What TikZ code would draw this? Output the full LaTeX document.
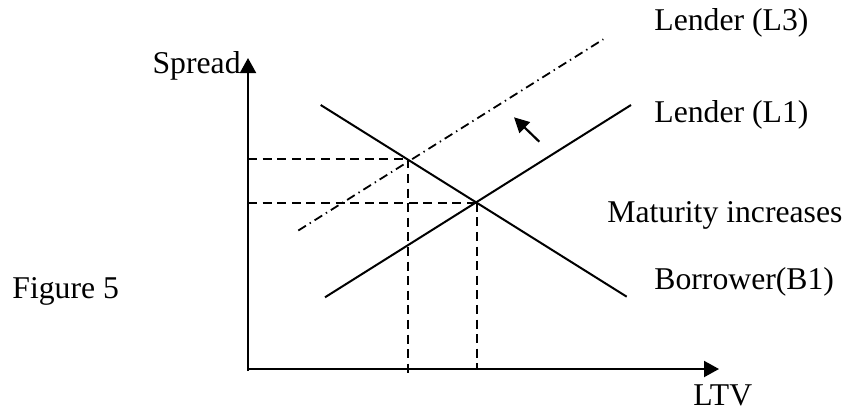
\documentclass[tikz,border=0pt]{standalone}
\usepackage{fontspec}
\setmainfont{Liberation Serif}
\usetikzlibrary{arrows.meta,positioning}

\begin{document}
\begin{tikzpicture}[
  x=0.5pt,y=-0.5pt,
  lbl/.style={inner sep=0pt,anchor=base west,font=\fontsize{15.85}{19}\selectfont},
  axis/.style={-{Triangle[length=7.5pt,width=8pt]},line width=1pt},
  curve/.style={line width=1pt},
  guide/.style={line width=0.9pt,dash pattern=on 4.5pt off 2.8pt},
  shifted/.style={line width=0.9pt,dash pattern=on 4.5pt off 2.2pt on 0.7pt off 2.2pt},
  arr/.style={-{Triangle[length=7.5pt,width=7.5pt]},line width=1.1pt}
]
\useasboundingbox (0,0) rectangle (844,412);

\coordinate (origin) at (248,369);
\coordinate (ytop) at (248,58);
\coordinate (xend) at (719,369);
\coordinate (b1a) at (320.7,105);
\coordinate (b1b) at (626.7,296.7);
\coordinate (l1a) at (325,297.3);
\coordinate (l1b) at (631,105);
\coordinate (l3a) at (298.3,230.5);
\coordinate (l3b) at (603.3,39.3);
\coordinate (eq1) at (476.7,202.7);
\coordinate (eq3) at (408.3,159.3);
\coordinate (eq1x) at (476.7,369);
\coordinate (eq3x) at (408.3,377);
\coordinate (eq1y) at (248,202.7);
\coordinate (eq3y) at (248,159.3);
\coordinate (from) at (539.3,141.7);
\coordinate (to) at (514,117.3);

\node[lbl,anchor=base east] (spread) at (241,73) {Spread};
\node[lbl] (ltv) at (693,405) {LTV};
\node[lbl] (lendthree) at (654,30) {Lender (L3)};
\node[lbl] (lendone) at (654,122) {Lender (L1)};
\node[lbl] (maturity) at (607,222) {Maturity increases};
\node[lbl] (borrower) at (654,289) {Borrower(B1)};
\node[lbl] (fig) at (12,298) {Figure 5};

\draw[axis] ([yshift=-1pt]origin) -- (ytop);
\draw[axis] (origin) -- (xend);
\draw[curve] (b1a) -- (b1b);
\draw[curve] (l1a) -- (l1b);
\draw[shifted] (l3a) -- (l3b);
\draw[guide] (eq3y) -- (eq3);
\draw[guide] (eq1y) -- (eq1);
\draw[guide] (eq3) -- (eq3x);
\draw[guide] (eq1) -- (eq1x);
\draw[arr] (from) -- (to);
\end{tikzpicture}
\end{document}
